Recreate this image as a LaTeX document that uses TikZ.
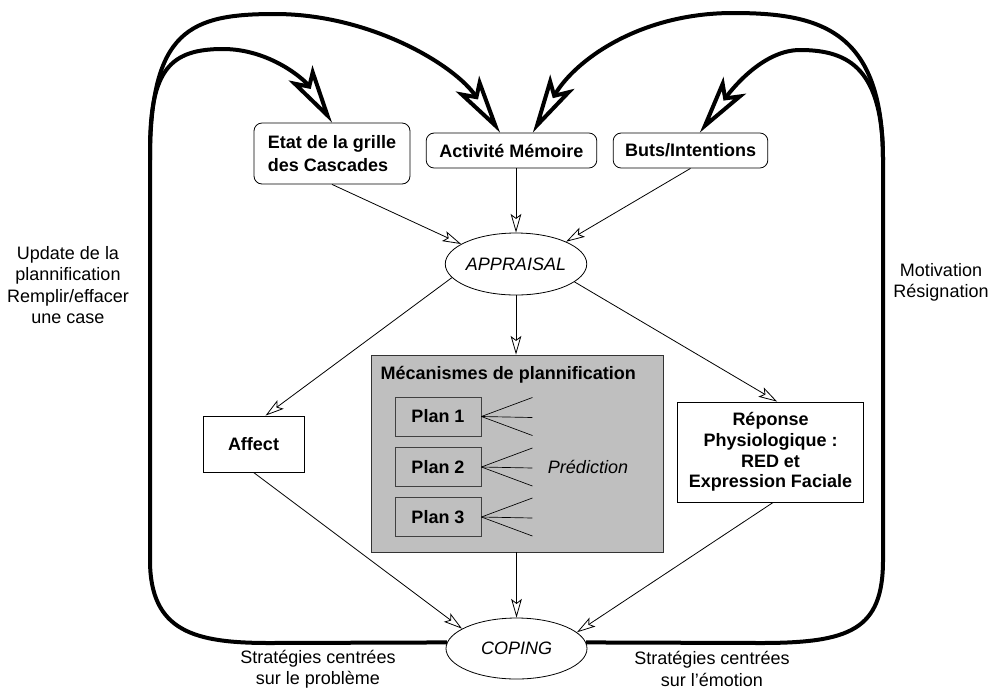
\documentclass[tikz,border=0pt]{standalone}
\usepackage{fontspec}
\setmainfont{Liberation Sans}
\usetikzlibrary{arrows.meta,shapes.geometric,calc}

\begin{document}
\begin{tikzpicture}[x=0.75pt,y=-0.75pt,
  font=\fontsize{13.5}{16}\selectfont,
  txtbox/.style={draw,rounded corners=6pt,line width=0.6pt,font=\fontsize{13.5}{17}\selectfont\bfseries},
  sqbox/.style={draw,line width=0.6pt,align=center,font=\fontsize{13.5}{15.4}\selectfont\bfseries},
  ellipsebox/.style={draw,ellipse,inner sep=0pt,line width=0.6pt,font=\fontsize{13.5}{16}\selectfont\itshape},
  planbox/.style={draw=black!75,fill=black!25,line width=0.6pt,minimum width=64.5pt,minimum height=29.25pt,font=\fontsize{13.5}{16}\selectfont\bfseries},
  flow/.style={line width=0.6pt,-{Stealth[open,length=14pt,width=8pt,inset=3pt]}},
  feedback/.style={line width=3pt,line join=round,-{Stealth[open,length=44pt,width=21pt,inset=10pt]}},
  label/.style={align=center,inner sep=1pt,font=\fontsize{13.5}{16}\selectfont}]
	\useasboundingbox (0,0) rectangle (991,690);
	\node[txtbox,align=left,minimum width=117pt,minimum height=45.75pt] (etat) at (332,153.5) {Etat de la grille\\des Cascades};
	\node[txtbox,minimum width=128pt,minimum height=26.25pt] (memoire) at (511.5,150.5) {Activité Mémoire};
	\node[txtbox,minimum width=116pt,minimum height=26.25pt] (buts) at (690.5,150.5) {Buts/Intentions};
	\node[ellipsebox,minimum width=100.5pt,minimum height=46.5pt] (appraisal) at (516,264) {APPRAISAL};
	\node[draw=black!80,fill=black!25,line width=0.6pt,minimum width=219pt,minimum height=147.75pt] (meca) at (517,453.5) {};
	\node[anchor=west,font=\fontsize{13.5}{16}\selectfont\bfseries] (mecatitle) at (376,375) {Mécanismes de plannification};
	\foreach \i/\y in {1/416.5, 2/467, 3/517} {
		\node[planbox] (plan\i) at (438,\y) {Plan \i};
		\foreach \d in {-19, 1, 19}
		\draw[line width=0.5pt] (plan\i.east) -- ++(51,\d);
	}
	\node[font=\fontsize{13.5}{16}\selectfont\itshape] (prediction) at (588,467) {Prédiction};
	\node[sqbox,minimum width=75.75pt,minimum height=42pt] (affect) at (253.5,444) {Affect};
	\node[sqbox,minimum width=140pt,minimum height=75pt] (reponse) at (770.5,452) {Réponse\\Physiologique :\\RED et\\Expression Faciale};
	\node[ellipsebox,minimum width=105.75pt,minimum height=45.75pt] (coping) at (516.5,648.5) {COPING};
	\node[label] (update) at (68,285) {Update de la\\plannification\\Remplir/effacer\\une case};
	\node[label] (motivation) at (941,282.5) {Motivation\\Résignation};
	\node[label] (probleme) at (318,669) {Stratégies centrées\\sur le problème};
	\node[label] (emotion) at (712,669) {Stratégies centrées\\sur l'émotion};
	\draw[flow] (etat.south) -- (appraisal.160);
	\draw[flow] (memoire.south -| appraisal.north) -- (appraisal.north);
	\draw[flow] (buts.south) -- (appraisal.24);
	\draw[flow] (appraisal.192) -- ([xshift=9pt]affect.north);
	\draw[flow] (appraisal.south) -- (appraisal.south |- meca.north);
	\draw[flow] (appraisal.343) -- ([xshift=5pt]reponse.north);
	\draw[flow] (affect.south) -- (coping.160);
	\draw[flow] (meca.south -| coping.north) -- (coping.north);
	\draw[flow] ([xshift=2pt]reponse.south) -- (coping.15);
	\draw[feedback] (coping.175) -- (270,643) .. controls (195,643) and (150,632) .. (150,560) -- (150,150) .. controls (150,70) and (170,49) .. (223,49) .. controls (270,49) and (305,80) .. (etat.north);
	\draw[feedback] (150,160) .. controls (150,30) and (190,14) .. (275,14) .. controls (370,14) and (455,65) .. ([xshift=-8.6pt]memoire.north);
	\draw[feedback] (coping.5) -- (760,643) .. controls (850,643) and (883,630) .. (883,560) -- (883,160) .. controls (883,70) and (850,50) .. (800,50) .. controls (765,50) and (735,85) .. ([xshift=7pt]buts.north);
	\draw[feedback] (883,160) .. controls (883,30) and (820,13) .. (733,13) .. controls (640,13) and (575,60) .. ([xshift=16pt]memoire.north);
\end{tikzpicture}
\end{document}
